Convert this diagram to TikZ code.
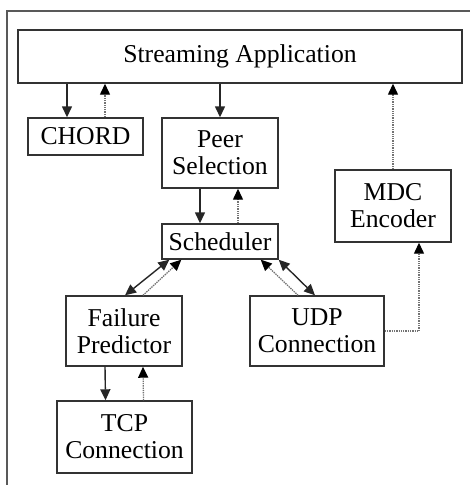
\documentclass[tikz,border=0pt]{standalone}
\usepackage{fontspec}
\setmainfont{Liberation Serif}
\usetikzlibrary{arrows.meta}
\begin{document}
\begin{tikzpicture}[x=1pt,y=-1pt,
  box/.style={draw=black!80,line width=1.4pt,rectangle,inner sep=0pt,align=center,
    font=\fontsize{25.7}{27}\selectfont},
  tip/.style={},
  solidarr/.style={line width=1.4pt,draw=black!85,-{Triangle[length=11pt,width=10pt]}},
  bothdarr/.style={line width=1.4pt,draw=black!85,{Triangle[length=11pt,width=10pt]}-{Triangle[length=11pt,width=10pt]}},
  dotarr/.style={line width=1.3pt,draw=black!55,densely dotted,
    -{Triangle[length=11pt,width=10pt,color=black]}},
  frameline/.style={draw=black!65,line width=1.5pt}]
\useasboundingbox (0,0) rectangle (469,485);
\draw[frameline] (7,486) -- (7,11) -- (470,11);
\node[box,minimum width=444pt,minimum height=53pt] (app) at (240,56.5) {Streaming Application};
\node[box,minimum width=115pt,minimum height=37pt] (chord) at (85.5,136.5) {CHORD};
\node[box,minimum width=116pt,minimum height=70pt] (peer) at (220,153) {Peer\\Selection};
\node[box,minimum width=116pt,minimum height=72pt] (mdc) at (393,206) {MDC\\Encoder};
\node[box,minimum width=116pt,minimum height=35pt] (sched) at (220,241.5) {Scheduler};
\node[box,minimum width=116pt,minimum height=70pt] (fail) at (124,331) {Failure\\Predictor};
\node[box,minimum width=134pt,minimum height=70pt] (udp) at (317,331) {UDP\\Connection};
\node[box,minimum width=135pt,minimum height=72pt] (tcp) at (124.5,437) {TCP\\Connection};
\coordinate (c1) at ([xshift=-18.5pt]chord.north);
\coordinate (c2) at ([xshift=19.5pt]chord.north);
% app <-> chord
\draw[solidarr] (app.south -| c1) -- (c1);
\draw[dotarr] (c2) -- (app.south -| c2);
% app -> peer
\draw[solidarr] (app.south -| peer.north) -- (peer.north);
% mdc -> app
\draw[dotarr] (mdc.north) -- (app.south -| mdc.north);
% peer <-> sched
\draw[solidarr] ([xshift=-20pt]peer.south) -- ([xshift=-20pt]sched.north);
\draw[dotarr] ([xshift=18pt]sched.north) -- ([xshift=18pt]peer.south);
% sched <-> fail
\draw[bothdarr] ([xshift=1pt]fail.north) -- ([xshift=8pt]sched.south west);
\draw[dotarr] ([xshift=19pt]fail.north) -- ([xshift=20pt]sched.south west);
% sched <-> udp
\draw[bothdarr] (sched.south east) -- ([xshift=-2pt]udp.north);
\draw[dotarr] ([xshift=-19pt]udp.north) -- ([xshift=-18pt]sched.south east);
% fail <-> tcp
\draw[solidarr] ([xshift=-19pt]fail.south) -- ([xshift=-19pt]tcp.north);
\draw[dotarr] ([xshift=19pt]tcp.north) -- ([xshift=19pt]fail.south);
% udp -> mdc
\coordinate (m1) at ([xshift=26pt]mdc.south);
\coordinate (bend) at (m1 |- udp.east);
\draw[dotarr] (udp.east) -- (bend) -- (m1);
\end{tikzpicture}
\end{document}
